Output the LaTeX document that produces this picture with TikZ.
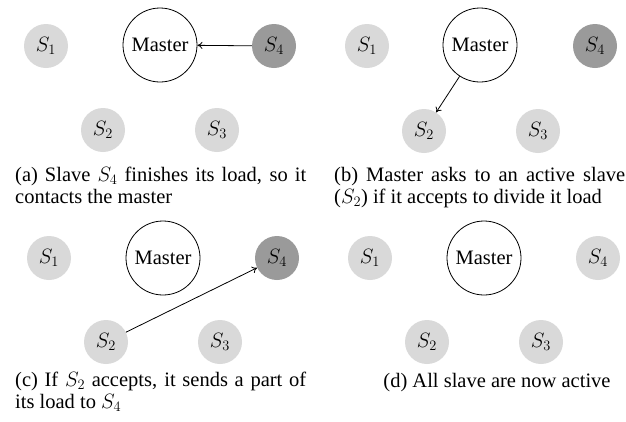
\documentclass[tikz,border=0pt]{standalone}
\usepackage{fontspec}
\setmainfont{Liberation Serif}
\usetikzlibrary{arrows.meta}
\definecolor{lightslave}{HTML}{D9D9D9}
\definecolor{darkslave}{HTML}{9A9A9A}
\begin{document}
\begin{tikzpicture}[x=1pt,y=-1pt,
  font=\fontsize{20.5}{22}\selectfont,
  slave/.style={circle, fill=lightslave, draw=none, minimum size=44pt, inner sep=0pt},
  idle/.style={slave, fill=darkslave},
  master/.style={circle, draw=black, line width=0.8pt, fill=white, minimum size=74pt, inner sep=0pt},
  conn/.style={-{To[length=5pt,width=7pt]}, line width=0.8pt},
  caption/.style={anchor=north west, text width=291pt, align=justify, inner sep=0pt}]
\useasboundingbox (0,0) rectangle (626,421);

% (a)
\node[slave] (a1) at (46,46) {$S_1$};
\node[master] (am) at (160,45) {Master};
\node[idle] (a4) at (274,46) {$S_4$};
\node[slave] (a2) at (103,130) {$S_2$};
\node[slave] (a3) at (217,130) {$S_3$};
\draw[conn] (a4) -- (am);
\node[caption] (capa) at (15,167) {\hyphenpenalty=10000 (a) Slave $S_4$ finishes its load, so it contacts the master};

% (b)
\node[slave] (b1) at (367,46) {$S_1$};
\node[master] (bm) at (480,45) {Master};
\node[idle] (b4) at (595,46) {$S_4$};
\node[slave] (b2) at (424,131) {$S_2$};
\node[slave] (b3) at (538,131) {$S_3$};
\draw[conn] (bm) -- (b2);
\node[caption] (capb) at (334,167) {\hyphenpenalty=10000 (b) Master asks to an active slave ($S_2$) if it accepts to divide it load};

% (c)
\node[slave] (c1) at (49,258) {$S_1$};
\node[master] (cm) at (163,258) {Master};
\node[idle] (c4) at (277,258) {$S_4$};
\node[slave] (c2) at (106,342) {$S_2$};
\node[slave] (c3) at (220,342) {$S_3$};
\draw[conn] (c2) -- (c4);
\node[caption] (capc) at (15,372) {\hyphenpenalty=10000 (c) If $S_2$ accepts, it sends a part of its load to $S_4$};

% (d)
\node[slave] (d1) at (370,258) {$S_1$};
\node[master] (dm) at (484,258) {Master};
\node[slave] (d4) at (598,258) {$S_4$};
\node[slave] (d2) at (427,342) {$S_2$};
\node[slave] (d3) at (541,342) {$S_3$};
\node[anchor=north, inner sep=0pt] (capd) at (497,373) {(d) All slave are now active};
\end{tikzpicture}
\end{document}
